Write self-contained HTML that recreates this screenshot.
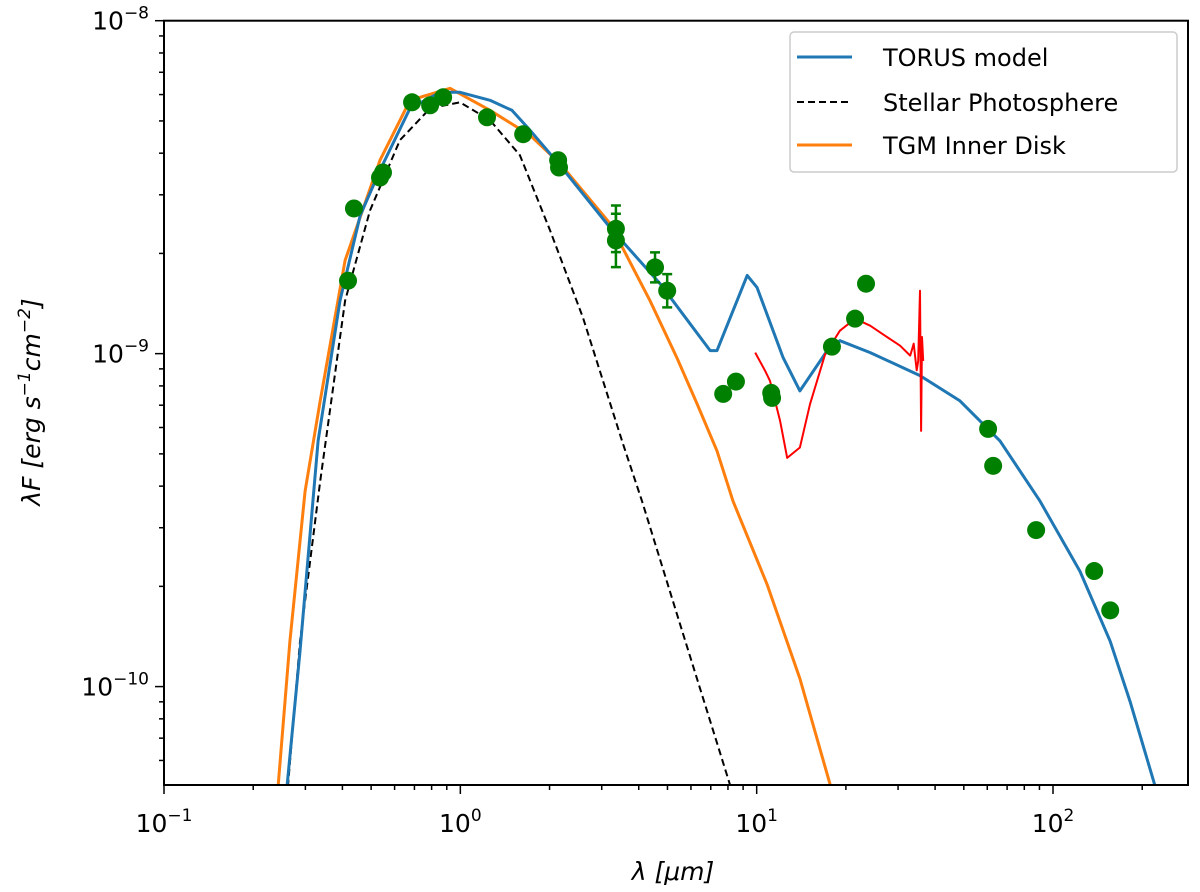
<!DOCTYPE html>
<html><head><meta charset="utf-8"><style>
html,body{margin:0;padding:0;background:#fff;}
svg{display:block;font-family:"DejaVu Sans","Liberation Sans",sans-serif;}
</style></head><body>
<svg id="chart" width="1200" height="892" viewBox="0 0 1200 892" xmlns="http://www.w3.org/2000/svg">
<g id="plot"></g>
<g id="axes"></g>
<text x="673" y="880" font-size="25" text-anchor="middle" font-style="italic">λ [μm]</text>
<text transform="translate(40,402) rotate(-90)" font-size="25" text-anchor="middle" font-style="italic">λF [erg s<tspan dy="-10" font-size="17">−1</tspan><tspan dy="10">cm</tspan><tspan dy="-10" font-size="17">−2</tspan><tspan dy="10">]</tspan></text>
<g>
<rect x="790" y="32" width="387" height="140" rx="4" fill="#fff" stroke="#ccc" stroke-width="1.5"/>
<line x1="797" y1="57" x2="852" y2="57" stroke="#1f77b4" stroke-width="3"/>
<text x="883" y="66" font-size="24">TORUS model</text>
<line x1="797" y1="102" x2="852" y2="102" stroke="#000" stroke-width="2" stroke-dasharray="7,4"/>
<text x="883" y="111" font-size="24">Stellar Photosphere</text>
<line x1="797" y1="145" x2="852" y2="145" stroke="#ff7f0e" stroke-width="3"/>
<text x="883" y="154" font-size="24">TGM Inner Disk</text>
</g>
</svg>
<script>
// log10(lambda/um), log10(flux)
const torusLogX=[-0.585,-0.541,-0.480,-0.406,-0.338,-0.271,-0.170,-0.068,-0.001,0.100,0.174,0.235,0.336,0.505,0.674,0.785,0.843,0.866,0.968,1.001,1.089,1.146,1.238,1.281,1.383,1.551,1.686,1.821,1.956,2.091,2.193,2.260,2.345];
const torusLogY=[-10.30,-9.894,-9.262,-8.841,-8.585,-8.449,-8.263,-8.215,-8.215,-8.239,-8.269,-8.329,-8.434,-8.621,-8.790,-8.922,-8.991,-8.991,-8.765,-8.801,-9.012,-9.112,-8.991,-8.961,-8.997,-9.066,-9.142,-9.262,-9.443,-9.654,-9.864,-10.045,-10.301];
const tgmLogX=[-0.615,-0.575,-0.524,-0.473,-0.389,-0.271,-0.170,-0.035,0.100,0.235,0.336,0.505,0.640,0.731,0.799,0.866,0.920,1.035,1.146,1.248];
const tgmLogY=[-10.30,-9.864,-9.413,-9.142,-8.720,-8.419,-8.239,-8.203,-8.269,-8.344,-8.429,-8.609,-8.841,-9.013,-9.151,-9.292,-9.443,-9.693,-9.976,-10.295];
const starLogX=[-0.582,-0.541,-0.473,-0.389,-0.305,-0.204,-0.102,-0.001,0.100,0.201,0.303,0.414,0.549,0.613,0.752,0.910];
const starLogY=[-10.301,-9.864,-9.383,-8.841,-8.570,-8.359,-8.263,-8.245,-8.299,-8.404,-8.630,-8.892,-9.271,-9.443,-9.843,-10.295];
const specLogX=[0.995,1.028,1.045,1.079,1.103,1.146,1.180,1.231,1.281,1.332,1.383,1.433,1.484,1.518,1.530,1.540,1.545,1.551,1.555,1.558,1.562];
const specLogY=[-8.997,-9.051,-9.082,-9.202,-9.313,-9.282,-9.152,-9.002,-8.931,-8.895,-8.916,-8.946,-8.976,-9.006,-8.97,-9.05,-9.022,-8.811,-9.232,-8.95,-9.022];
const obsLogX=[-0.379,-0.359,-0.271,-0.261,-0.163,-0.102,-0.058,0.090,0.212,0.330,0.333,0.525,0.525,0.657,0.698,0.887,0.930,1.049,1.052,1.254,1.332,1.369,1.781,1.798,1.943,2.139,2.193];
const obsLogY=[-8.781,-8.564,-8.471,-8.456,-8.245,-8.254,-8.230,-8.290,-8.341,-8.419,-8.441,-8.625,-8.660,-8.741,-8.811,-9.121,-9.084,-9.118,-9.133,-8.979,-8.895,-8.790,-9.226,-9.337,-9.530,-9.653,-9.771];
const obsErr=[0,0,0,0,0,0,0,0,0,0,0,0.07,0.08,0.045,0.05,0,0,0,0,0,0,0,0,0,0,0,0];
const xTickLabels=["-1","0","1","2"];
const yTickLabels=["-8","-9","-10"];

const L=164,R=1188,T=20.7,B=785;
const xMin=-1,xMax=2.4555,yMax=-8,yMin=-10.2956;
const sx=v=>L+(v-xMin)/(xMax-xMin)*(R-L);
const sy=v=>T+(yMax-v)/(yMax-yMin)*(B-T);
const NS="http://www.w3.org/2000/svg";
const plot=document.getElementById('plot'),axes=document.getElementById('axes');
function mk(tag,attrs,parent){const e=document.createElementNS(NS,tag);for(const k in attrs)e.setAttribute(k,attrs[k]);parent.appendChild(e);return e;}
const clip=mk('clipPath',{id:'clp'},plot);mk('rect',{x:L,y:T,width:R-L,height:B-T},clip);
function line(xs,ys,color,w,dash,name){
  const d=xs.map((x,i)=>(i?'L':'M')+sx(x).toFixed(1)+','+sy(ys[i]).toFixed(1)).join('');
  const p=mk('path',{d:d,fill:'none',stroke:color,'stroke-width':w,'clip-path':'url(#clp)','stroke-linejoin':'round'},plot);
  if(dash)p.setAttribute('stroke-dasharray',dash);
  
  
}
line(starLogX,starLogY,'#000',2,'7,4','stellar-photosphere-line');
line(tgmLogX,tgmLogY,'#ff7f0e',3,null,'tgm-inner-disk-line');
line(torusLogX,torusLogY,'#1f77b4',3,null,'torus-model-line');
line(specLogX,specLogY,'#ff0000',2,null,'ir-spectrum-line');
obsLogX.forEach((x,i)=>{
  if(obsErr[i]>0){
    const cx=sx(x),y1=sy(obsLogY[i]+obsErr[i]),y2=sy(obsLogY[i]-obsErr[i]);
    const g=mk('path',{d:`M${cx},${y1}V${y2}M${cx-5},${y1}H${cx+5}M${cx-5},${y2}H${cx+5}`,stroke:'#008000','stroke-width':2.5,fill:'none'},plot);
    
    
  }
  const c=mk('circle',{cx:sx(x),cy:sy(obsLogY[i]),r:9,fill:'#008000'},plot);
  
  
});
const fr=mk('rect',{x:L,y:T,width:R-L,height:B-T,fill:'none',stroke:'#000','stroke-width':2},axes);


for(let d=-1;d<=2;d++){
  for(let m=1;m<10;m++){
    const v=d+Math.log10(m);if(v>xMax)break;
    const x=sx(v),len=m===1?9:5;
    mk('line',{x1:x,y1:B,x2:x,y2:B+len,stroke:'#000','stroke-width':1.5},axes);
  }
}
xTickLabels.forEach(t=>{
  const x=sx(+t);
  const tx=mk('text',{x:x,y:B+47,'font-size':25,'text-anchor':'middle'},axes);
  tx.innerHTML='10<tspan dy="-11" font-size="17">'+t.replace('-','−')+'</tspan>';
  
  
});
for(let d=-11;d<=-9;d++){
  for(let m=1;m<10;m++){
    const v=d+Math.log10(m);if(v<yMin-1e-6||v>yMax+1e-6)continue;
    const y=sy(v),len=m===1?9:5;
    mk('line',{x1:L-len,y1:y,x2:L,y2:y,stroke:'#000','stroke-width':1.5},axes);
  }
}
mk('line',{x1:L-9,y1:sy(-8),x2:L,y2:sy(-8),stroke:'#000','stroke-width':1.5},axes);
yTickLabels.forEach(t=>{
  const y=sy(+t);
  const tx=mk('text',{x:L-15,y:y+9,'font-size':25,'text-anchor':'end'},axes);
  tx.innerHTML='10<tspan dy="-11" font-size="17">'+t.replace('-','−')+'</tspan>';
  
  
});
</script>
</body></html>
